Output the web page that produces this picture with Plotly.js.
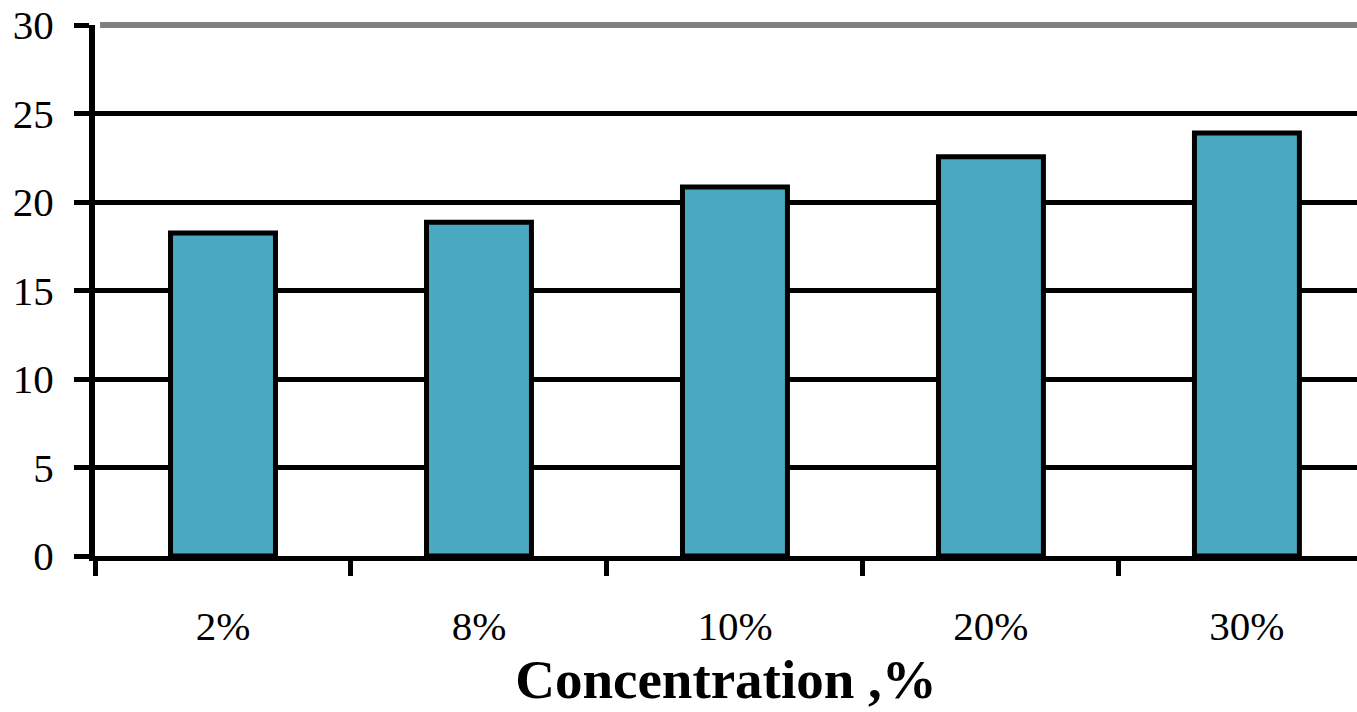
<!DOCTYPE html>
<html>
<head>
<meta charset="utf-8">
<script src="https://cdn.plot.ly/plotly-3.0.1.min.js"></script>
<style>html,body{margin:0;padding:0;background:#fff;overflow:hidden}</style>
</head>
<body>
<div id="chart" style="width:1357px;height:712px"></div>
<script>
const categories = ["2%", "8%", "10%", "20%", "30%"];
const values = [18.25, 18.85, 20.85, 22.55, 23.9];
const yTicks = [0, 5, 10, 15, 20, 25, 30];
const xTitle = "Concentration ,%";

const trace = {
  type: "bar",
  x: categories,
  y: values,
  width: 0.41,
  marker: {color: "#4AA8C1", line: {color: "#000", width: 5}},
  hoverinfo: "x+y"
};

const layout = {
  width: 1357, height: 712,
  margin: {l: 95, r: 0, t: 25, b: 156, pad: 0},
  paper_bgcolor: "#fff", plot_bgcolor: "#fff",
  showlegend: false,
  font: {family: "Liberation Serif, Times New Roman, serif", color: "#000"},
  xaxis: {
    type: "category",
    range: [-0.5, 4.43],
    tickson: "boundaries",
    ticks: "outside", ticklen: 15, tickwidth: 5, tickcolor: "#000",
    showline: true, linecolor: "#000", linewidth: 5,
    showgrid: false, zeroline: false,
    tickfont: {size: 41, family: "Liberation Serif, serif"},
    ticklabelstandoff: 30,
    title: {text: xTitle, font: {size: 55, family: "Liberation Serif, serif", weight: "bold"}, standoff: 9}
  },
  yaxis: {
    range: [0, 30],
    tickvals: yTicks,
    ticktext: yTicks.map(String),
    ticks: "outside", ticklen: 15, tickwidth: 5, tickcolor: "#000",
    showline: true, linecolor: "#000", linewidth: 6,
    showgrid: true, gridcolor: "#000", gridwidth: 5,
    zeroline: false,
    tickfont: {size: 41, family: "Liberation Serif, serif"},
    ticklabelstandoff: 12
  },
  shapes: [{
    type: "line", xref: "paper", yref: "paper",
    x0: 0.004, x1: 1, y0: 1, y1: 1,
    line: {color: "#808080", width: 6}, layer: "above"
  }]
};

Plotly.newPlot("chart", [trace], layout, {displayModeBar: false, staticPlot: true});
</script>
</body>
</html>
